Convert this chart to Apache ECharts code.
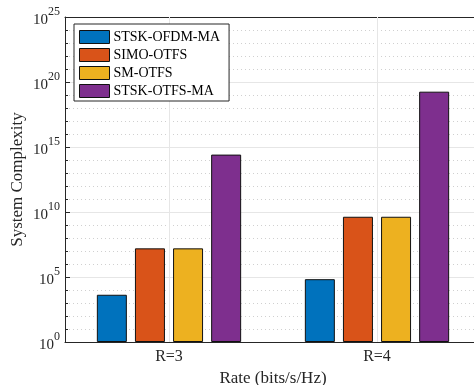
<!DOCTYPE html>
<html style="height: 100%">
<head>
    <meta charset="utf-8">
</head>
<body style="height: 100%; margin: 0; background: #fff">
    <div id="container" style="width: 474px; height: 385px"></div>
    <script type="text/javascript" src="https://cdn.jsdelivr.net/npm/echarts@6/dist/echarts.min.js"></script>
    <script type="text/javascript">

// data
var categories = ['R=3', 'R=4'];
var seriesNames = ['STSK-OFDM-MA', 'SIMO-OTFS', 'SM-OTFS', 'STSK-OTFS-MA'];
var stskOfdmMa = [4.3e3, 6.8e4];
var simoOtfs = [1.6e7, 4.3e9];
var smOtfs = [1.6e7, 4.3e9];
var stskOtfsMa = [2.6e14, 1.8e19];
var colors = ['#0072BD', '#D95319', '#EDB120', '#7E2F8E'];

var serif = "'Liberation Serif', 'Times New Roman', serif";
var axisCol = '#262626';

var myChart = echarts.init(document.getElementById('container'));

function makeBar(name, values, color) {
    return {
        name: name,
        type: 'bar',
        data: values,
        yAxisIndex: 1,
        barWidth: 30,
        barGap: '27%',
        itemStyle: {
            color: color,
            borderColor: '#111',
            borderWidth: 1
        }
    };
}

var option = {
    backgroundColor: '#fff',
    animation: false,
    grid: {
        left: 65,
        top: 17,
        width: 416,
        height: 325,
        containLabel: false,
        outerBoundsMode: 'none'
    },
    legend: {
        orient: 'vertical',
        left: 74,
        top: 24,
        data: seriesNames,
        itemWidth: 30,
        itemHeight: 13,
        itemGap: 4,
        padding: [6, 9, 3, 5],
        borderColor: axisCol,
        borderWidth: 1,
        backgroundColor: '#fff',
        icon: 'rect',
        itemStyle: {
            borderColor: '#111',
            borderWidth: 1
        },
        textStyle: {
            fontFamily: serif,
            fontSize: 14,
            color: '#000',
            padding: [0, 0, 0, -1]
        }
    },
    xAxis: [{
        type: 'category',
        data: categories,
        position: 'bottom',
        name: 'Rate (bits/s/Hz)',
        nameLocation: 'middle',
        nameGap: 28,
        nameMoveOverlap: false,
        nameTextStyle: { fontFamily: serif, fontSize: 17, color: axisCol },
        axisLine: { lineStyle: { color: axisCol, width: 1 } },
        axisTick: { inside: true, alignWithLabel: true, length: 4, lineStyle: { color: axisCol } },
        axisLabel: { fontFamily: serif, fontSize: 16, color: axisCol, margin: 7 },
        splitLine: { show: true, alignWithLabel: true, lineStyle: { color: '#e6e6e6', width: 1 } },
        z: 3
    }, {
        type: 'category',
        data: categories,
        position: 'top',
        axisLine: { lineStyle: { color: axisCol, width: 1 } },
        axisTick: { inside: true, alignWithLabel: true, length: 4, lineStyle: { color: axisCol } },
        axisLabel: { show: false },
        splitLine: { show: false }
    }],
    yAxis: [{
        // one line per decade: dotted minor grid and short ticks
        type: 'log',
        logBase: 10,
        min: 1,
        max: 1e25,
        interval: 1,
        position: 'left',
        axisLine: { show: false },
        axisTick: { show: true, inside: true, length: 3, lineStyle: { color: axisCol } },
        axisLabel: { show: false },
        splitLine: { show: true, lineStyle: { color: '#d0d0d0', type: [1, 3], width: 1 } }
    }, {
        type: 'log',
        logBase: 10,
        min: 1,
        max: 1e25,
        interval: 5,
        position: 'left',
        name: 'System Complexity',
        nameLocation: 'middle',
        nameGap: 39,
        nameMoveOverlap: false,
        nameTextStyle: { fontFamily: serif, fontSize: 17, color: axisCol },
        axisLine: { show: true, lineStyle: { color: axisCol, width: 1 } },
        axisTick: { show: true, inside: true, length: 5, lineStyle: { color: axisCol } },
        splitLine: { show: true, lineStyle: { color: '#e6e6e6', width: 1 } },
        axisLabel: {
            margin: 5,
            formatter: function (v) {
                var e = Math.round(Math.log(v) / Math.LN10);
                return '{b|10}{s|' + e + '}';
            },
            rich: {
                b: { fontFamily: serif, fontSize: 15, color: axisCol, lineHeight: 22, verticalAlign: 'bottom' },
                s: { fontFamily: serif, fontSize: 12, color: axisCol, lineHeight: 12, verticalAlign: 'top' }
            }
        }
    }],
    series: [
        makeBar(seriesNames[0], stskOfdmMa, colors[0]),
        makeBar(seriesNames[1], simoOtfs, colors[1]),
        makeBar(seriesNames[2], smOtfs, colors[2]),
        makeBar(seriesNames[3], stskOtfsMa, colors[3])
    ]
};

myChart.setOption(option, true);

    </script>
</body>
</html>
